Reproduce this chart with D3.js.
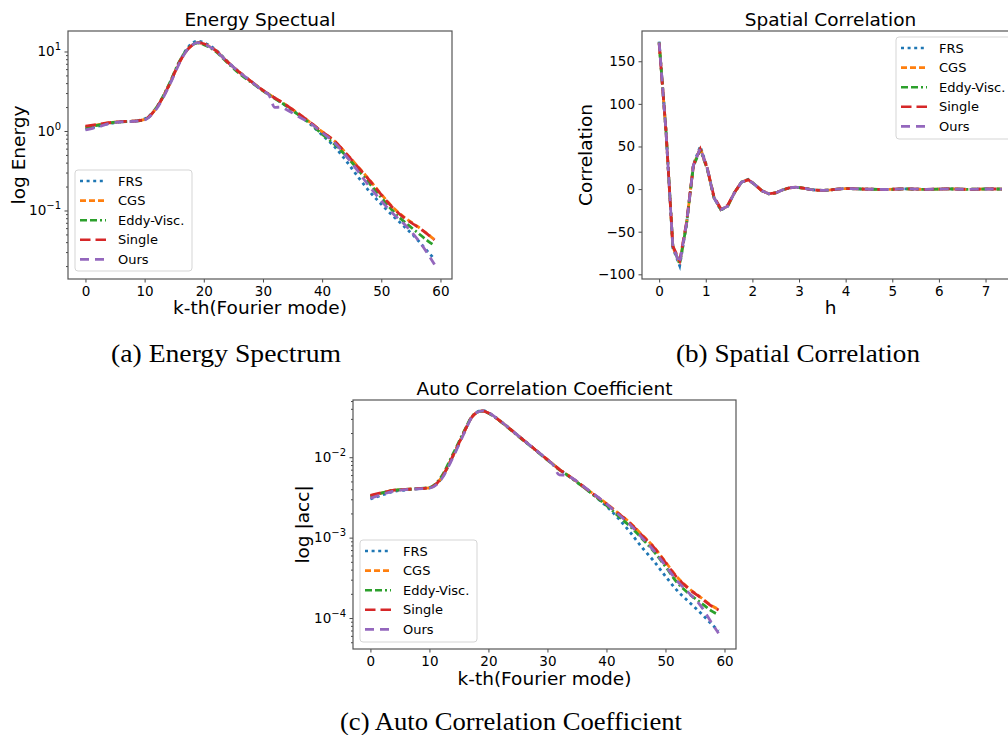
<!DOCTYPE html>
<html>
<head>
<meta charset="utf-8">
<script src="https://cdn.jsdelivr.net/npm/d3@7.9.0/dist/d3.min.js"></script>
<style>
  body { margin: 0; background: #fff; }
  svg { display: block; }
  text { font-family: "DejaVu Sans", sans-serif; fill: #000; }
  .cap { font-family: "Liberation Serif", serif; }
</style>
</head>
<body>
<svg id="fig" width="1008" height="735"></svg>
<script>
// series names shared by all three panels
const names = ["FRS", "CGS", "Eddy-Visc.", "Single", "Ours"];

// k-th Fourier mode where values were read
const kModes = [0, 2, 4, 6, 8, 10, 12, 14, 16, 17, 18, 19, 20, 22, 24, 26, 28, 30, 31, 32, 33, 34, 36, 38, 40, 42, 44, 46, 48, 50, 52, 54, 56, 58, 59];

// (a) energy spectrum
const energyFRS = [1.05, 1.14, 1.24, 1.30, 1.33, 1.42, 1.98, 3.6, 7.7, 10.4, 12.6, 13.5, 12.9, 10.5, 7.5, 5.5, 4.2, 3.25, 2.9, 2.6, 2.3, 2.05, 1.6, 1.22, 0.891, 0.646, 0.427, 0.269, 0.174, 0.120, 0.0851, 0.0617, 0.0437, 0.0295, 0.0245];
const energyCGS = [1.13, 1.19, 1.27, 1.31, 1.33, 1.40, 1.95, 3.6, 7.6, 10.0, 11.9, 12.9, 12.5, 10.3, 7.4, 5.5, 4.2, 3.25, 2.9, 2.6, 2.35, 2.1, 1.65, 1.28, 0.98, 0.76, 0.53, 0.36, 0.243, 0.16, 0.109, 0.081, 0.064, 0.0495, 0.043];
const energyEddy = [1.10, 1.18, 1.26, 1.30, 1.32, 1.39, 1.97, 3.7, 7.8, 10.2, 12.0, 12.8, 12.2, 10.0, 7.2, 5.3, 4.1, 3.2, 2.85, 2.55, 2.3, 2.05, 1.6, 1.24, 0.912, 0.692, 0.490, 0.331, 0.219, 0.145, 0.0977, 0.0708, 0.0537, 0.0407, 0.0363];
const energySingle = [1.15, 1.21, 1.27, 1.31, 1.33, 1.40, 1.95, 3.6, 7.6, 10.0, 11.9, 12.9, 12.5, 10.3, 7.4, 5.5, 4.2, 3.25, 2.9, 2.6, 2.35, 2.1, 1.65, 1.28, 0.977, 0.759, 0.525, 0.355, 0.240, 0.158, 0.107, 0.0794, 0.0631, 0.0490, 0.0427];
const energyOurs = [1.03, 1.12, 1.24, 1.30, 1.32, 1.38, 1.90, 3.5, 7.4, 10.0, 12.0, 12.9, 12.4, 10.2, 7.4, 5.5, 4.2, 3.2, 2.85, 1.98, 2.0, 1.85, 1.52, 1.25, 0.955, 0.724, 0.490, 0.316, 0.200, 0.132, 0.0912, 0.0661, 0.0447, 0.0275, 0.0209];

// (b) spatial correlation, lag h
const hLags = [0, 0.147, 0.294, 0.441, 0.588, 0.735, 0.882, 1.029, 1.176, 1.323, 1.47, 1.617, 1.764, 1.911, 2.058, 2.205, 2.352, 2.499, 2.646, 2.793, 2.94, 3.087, 3.234, 3.381, 3.528, 3.675, 3.822, 3.969, 4.116, 4.263, 4.41, 4.851, 5.292, 5.733, 6.174, 6.615, 7.056, 7.35];
const corrFRS = [173, 68, -69, -90, -41, 29, 50, 26, -10, -25, -20, -4, 8, 11.5, 5, -2, -5.5, -4.5, -1, 1.5, 2.2, 1.2, -0.3, -1.3, -1.5, -1, 0, 0.5, 0.5, 0.2, 0, -0.5, 0.3, -0.4, 0.3, -0.3, 0.2, 0];
const corrCGS = [172, 68, -68, -87, -40, 28, 48, 25, -10, -24, -20, -4, 8, 11, 5, -2, -5.5, -4.5, -1, 1.5, 2.2, 1.2, -0.3, -1.3, -1.5, -1, 0, 0.5, 0.5, 0.2, 0, -0.5, 0.3, -0.4, 0.3, -0.3, 0.2, 0];
const corrEddy = [172, 69, -67, -88, -41, 27, 46, 24, -10, -24, -20, -4, 8, 11, 5, -2, -5.5, -4.5, -1, 1.5, 2.2, 1.2, -0.3, -1.3, -1.5, -1, 0, 0.5, 0.5, 0.2, 0, -0.5, 0.3, -0.4, 0.3, -0.3, 0.2, 0];
const corrSingle = [171, 68, -67, -84, -39, 28, 47, 25, -9, -23, -19, -4, 8, 11, 5, -2, -5.5, -4.5, -1, 1.5, 2.2, 1.2, -0.3, -1.3, -1.5, -1, 0, 0.5, 0.5, 0.2, 0, -0.5, 0.3, -0.4, 0.3, -0.3, 0.2, 0];
const corrOurs = [172, 68, -68, -87, -40, 28, 48, 25, -10, -24, -20, -4, 8, 11, 5, -2, -5.5, -4.5, -1, 1.5, 2.2, 1.2, -0.3, -1.3, -1.5, -1, 0, 0.5, 0.5, 0.2, 0, -0.5, 0.3, -0.4, 0.3, -0.3, 0.2, 0];

// (c) auto correlation coefficient
const accFRS = [3.02e-3, 3.39e-3, 3.75e-3, 3.92e-3, 4.05e-3, 4.15e-3, 5.4e-3, 1.03e-2, 2.12e-2, 3.0e-2, 3.62e-2, 3.8e-2, 3.58e-2, 2.84e-2, 2.15e-2, 1.63e-2, 1.23e-2, 9.3e-3, 8.1e-3, 7.05e-3, 6.25e-3, 5.55e-3, 4.3e-3, 3.3e-3, 2.45e-3, 1.74e-3, 1.17e-3, 7.59e-4, 5.13e-4, 3.31e-4, 2.19e-4, 1.58e-4, 1.15e-4, 8.13e-5, 6.92e-5];
const accCGS = [3.31e-3, 3.6e-3, 3.89e-3, 3.98e-3, 4.07e-3, 4.17e-3, 5.5e-3, 1.047e-2, 2.14e-2, 3.02e-2, 3.59e-2, 3.76e-2, 3.55e-2, 2.82e-2, 2.14e-2, 1.62e-2, 1.23e-2, 9.33e-3, 8.13e-3, 7.08e-3, 6.31e-3, 5.62e-3, 4.37e-3, 3.39e-3, 2.65e-3, 2.02e-3, 1.53e-3, 1.09e-3, 7.7e-4, 5.0e-4, 3.22e-4, 2.33e-4, 1.8e-4, 1.4e-4, 1.28e-4];
const accEddy = [3.24e-3, 3.6e-3, 3.9e-3, 3.98e-3, 4.07e-3, 4.2e-3, 5.7e-3, 1.1e-2, 2.2e-2, 3.05e-2, 3.6e-2, 3.74e-2, 3.52e-2, 2.8e-2, 2.12e-2, 1.6e-2, 1.22e-2, 9.2e-3, 8.0e-3, 7.0e-3, 6.25e-3, 5.55e-3, 4.3e-3, 3.3e-3, 2.51e-3, 1.86e-3, 1.38e-3, 9.77e-4, 6.76e-4, 4.37e-4, 2.75e-4, 2.0e-4, 1.55e-4, 1.2e-4, 1.1e-4];
const accSingle = [3.35e-3, 3.63e-3, 3.89e-3, 3.98e-3, 4.07e-3, 4.17e-3, 5.5e-3, 1.047e-2, 2.14e-2, 3.02e-2, 3.59e-2, 3.76e-2, 3.55e-2, 2.82e-2, 2.14e-2, 1.62e-2, 1.23e-2, 9.33e-3, 8.13e-3, 7.08e-3, 6.31e-3, 5.62e-3, 4.37e-3, 3.39e-3, 2.63e-3, 2.0e-3, 1.51e-3, 1.07e-3, 7.59e-4, 4.9e-4, 3.16e-4, 2.29e-4, 1.78e-4, 1.38e-4, 1.26e-4];
const accOurs = [3.09e-3, 3.45e-3, 3.8e-3, 3.95e-3, 4.05e-3, 4.12e-3, 5.3e-3, 1.0e-2, 2.08e-2, 2.98e-2, 3.6e-2, 3.78e-2, 3.56e-2, 2.83e-2, 2.14e-2, 1.62e-2, 1.23e-2, 9.3e-3, 8.0e-3, 6.03e-3, 6.0e-3, 5.6e-3, 4.4e-3, 3.42e-3, 2.63e-3, 1.95e-3, 1.45e-3, 1.0e-3, 6.92e-4, 4.47e-4, 2.88e-4, 2.04e-4, 1.41e-4, 8.32e-5, 6.46e-5];

// tick labels
const kTicks = [0, 10, 20, 30, 40, 50, 60];
const hTicks = [0, 1, 2, 3, 4, 5, 6, 7];
const corrTicks = [-100, -50, 0, 50, 100, 150];

// line look, same order as names
const colors = ["#1f77b4", "#ff7f0e", "#2ca02c", "#d62728", "#9467bd"];
const dashes = ["3,3.6", "6,3", "7,3,7,3,2,3", "10.5,5", "9,6"];

const svg = d3.select("#fig");
const sup = { "1": "1", "0": "0", "-1": "\u22121", "-2": "\u22122", "-3": "\u22123", "-4": "\u22124" };

function panel(opt) {
  const { left, top, right, bottom } = opt.box;
  const g = svg.append("g");
  const x = d3.scaleLinear().domain(opt.xDomain).range([left, right]);
  const y = (opt.log ? d3.scaleLog() : d3.scaleLinear()).domain(opt.yDomain).range([bottom, top]);

  g.append("clipPath").attr("id", "clip" + opt.id)
    .append("rect").attr("x", left).attr("y", top).attr("width", right - left).attr("height", bottom - top);

  // lines, Ours drawn last so it lies on top
  const plot = g.append("g").attr("clip-path", `url(#clip${opt.id})`);
  opt.series.forEach((vals, i) => {
    const line = d3.line()
      .x((d, j) => x(opt.xs[j]))
      .y(d => y(d))
      .curve(opt.curve || d3.curveMonotoneX);
    plot.append("path")
      .attr("d", line(vals))
      .attr("fill", "none")
      .attr("stroke", colors[i])
      .attr("stroke-width", 2.8)
      .attr("stroke-dasharray", dashes[i]);
  });

  // x axis
  const xAxis = g.append("g").attr("transform", `translate(0,${bottom})`)
    .call(d3.axisBottom(x).tickValues(opt.xTicks).tickSize(3.5).tickPadding(3.5));
  xAxis.selectAll("text").attr("font-size", 13.5).attr("font-family", "DejaVu Sans");

  // y axis
  if (opt.log) {
    const [lo, hi] = opt.yDomain;
    const majors = [], minors = [];
    for (let e = Math.floor(Math.log10(lo)); e <= Math.ceil(Math.log10(hi)); e++) {
      const p = Math.pow(10, e);
      if (p >= lo && p <= hi) majors.push(p);
      for (let m = 2; m <= 9; m++) if (m * p >= lo && m * p <= hi) minors.push(m * p);
    }
    g.append("g").attr("transform", `translate(${left},0)`)
      .call(d3.axisLeft(y).tickValues(minors).tickSize(2).tickFormat(""));
    const yAxis = g.append("g").attr("transform", `translate(${left},0)`)
      .call(d3.axisLeft(y).tickValues(majors).tickSize(3.5).tickFormat(""));
    yAxis.selectAll(".tick").append("text")
      .attr("x", -7).attr("dy", "0.32em").attr("text-anchor", "end")
      .attr("font-size", 13.5).attr("fill", "#000")
      .each(function (d) {
        const t = d3.select(this);
        t.append("tspan").text("10");
        t.append("tspan").attr("font-size", 10).attr("dy", -6)
          .text(sup[String(Math.round(Math.log10(d)))]);
      });
  } else {
    const yAxis = g.append("g").attr("transform", `translate(${left},0)`)
      .call(d3.axisLeft(y).tickValues(opt.yTicks).tickSize(3.5).tickPadding(3.5)
        .tickFormat(d => d < 0 ? "\u2212" + Math.abs(d) : String(d)));
    yAxis.selectAll("text").attr("font-size", 13.5).attr("font-family", "DejaVu Sans");
  }
  g.selectAll(".domain").remove();
  g.selectAll(".tick line").attr("stroke", "#333").attr("stroke-width", 0.9);

  // frame
  g.append("rect").attr("x", left).attr("y", top)
    .attr("width", right - left).attr("height", bottom - top)
    .attr("fill", "none").attr("stroke", "#555").attr("stroke-width", 1.2);

  // titles and labels
  g.append("text").attr("x", (left + right) / 2).attr("y", top - 5)
    .attr("text-anchor", "middle").attr("font-size", 18.5).text(opt.title);
  g.append("text").attr("x", (left + right) / 2).attr("y", opt.xLabelY)
    .attr("text-anchor", "middle").attr("font-size", 18.5).text(opt.xLabel);
  g.append("text")
    .attr("transform", `translate(${opt.yLabelX},${(top + bottom) / 2}) rotate(-90)`)
    .attr("text-anchor", "middle").attr("font-size", 18.5).text(opt.yLabel);

  // legend
  const L = opt.legend;
  const lg = g.append("g").attr("clip-path", opt.legendClip ? `url(#clip${opt.id})` : null);
  lg.append("rect").attr("x", L.x).attr("y", L.y).attr("width", L.w).attr("height", L.h)
    .attr("rx", 3).attr("fill", "#fff").attr("fill-opacity", 0.85)
    .attr("stroke", "#d5d5d5").attr("stroke-width", 1);
  names.forEach((n, i) => {
    const cy = L.y + 11 + i * 19.6;
    lg.append("line").attr("x1", L.x + 5).attr("x2", L.x + 31).attr("y1", cy).attr("y2", cy)
      .attr("stroke", colors[i]).attr("stroke-width", 2.6).attr("stroke-dasharray", dashes[i]);
    lg.append("text").attr("x", L.x + 43).attr("y", cy).attr("dy", "0.35em")
      .attr("font-size", 13).text(n);
  });

  // caption
  svg.append("text").attr("class", "cap").attr("x", opt.capX).attr("y", opt.capY)
    .attr("text-anchor", "middle").attr("font-size", 25)
    .attr("textLength", opt.capW).attr("lengthAdjust", "spacingAndGlyphs")
    .text(opt.caption);
}

panel({
  id: "a",
  box: { left: 68, top: 31, right: 452, bottom: 279 },
  xDomain: [-2.95, 61.95], yDomain: [0.01375, 18.1], log: true,
  xs: kModes, series: [energyFRS, energyCGS, energyEddy, energySingle, energyOurs],
  xTicks: kTicks,
  title: "Energy Spectual", xLabel: "k-th(Fourier mode)", xLabelY: 314,
  yLabel: "log Energy", yLabelX: 25,
  legend: { x: 75, y: 170, w: 117, h: 101 },
  caption: "(a) Energy Spectrum", capX: 226, capY: 362, capW: 230
});

panel({
  id: "b",
  box: { left: 642, top: 31, right: 1019, bottom: 279 },
  xDomain: [-0.3675, 7.7175], yDomain: [-105.5, 185.5], log: false,
  xs: hLags, series: [corrFRS, corrCGS, corrEddy, corrSingle, corrOurs],
  curve: d3.curveLinear,
  xTicks: hTicks, yTicks: corrTicks,
  title: "Spatial Correlation", xLabel: "h", xLabelY: 314,
  yLabel: "Correlation", yLabelX: 592,
  legend: { x: 896, y: 37, w: 118, h: 102 }, legendClip: true,
  caption: "(b) Spatial Correlation", capX: 798, capY: 362, capW: 244
});

panel({
  id: "c",
  box: { left: 353, top: 400, right: 736, bottom: 649 },
  xDomain: [-2.95, 61.95], yDomain: [4.12e-5, 5.15e-2], log: true,
  xs: kModes, series: [accFRS, accCGS, accEddy, accSingle, accOurs],
  xTicks: kTicks,
  title: "Auto Correlation Coefficient", xLabelY: 685, xLabel: "k-th(Fourier mode)",
  yLabel: "log |acc|", yLabelX: 309,
  legend: { x: 360, y: 540, w: 117, h: 102 },
  caption: "(c) Auto Correlation Coefficient", capX: 511, capY: 730, capW: 342
});
</script>
</body>
</html>
